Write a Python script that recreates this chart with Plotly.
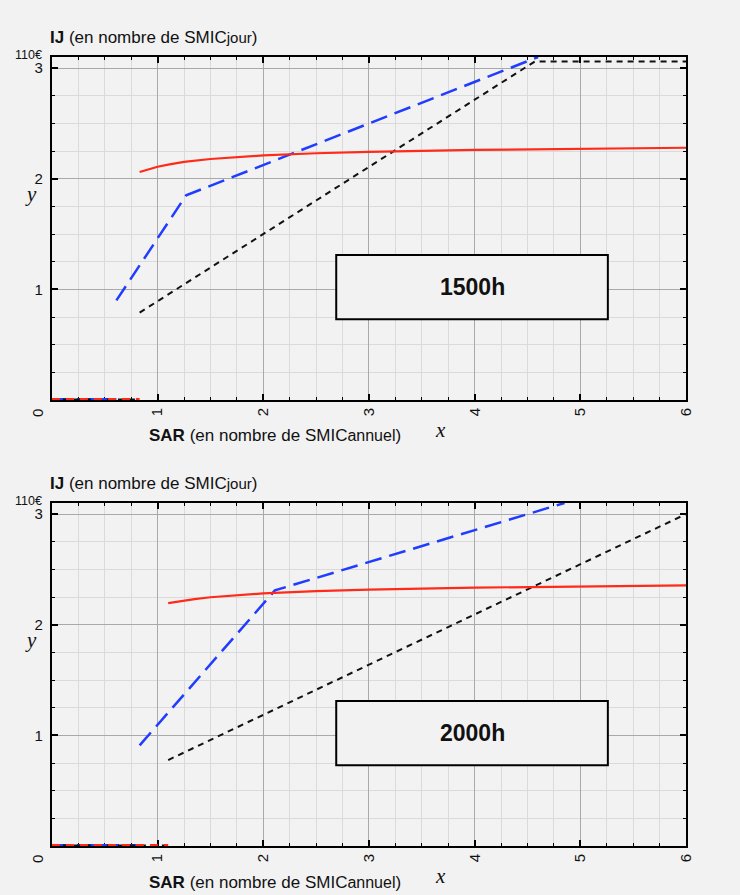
import plotly.graph_objects as go

W, H = 740, 895

# ---------- data ----------
# Top panel: 1500h
X1_RED = [0.83, 0.9, 1.0, 1.1, 1.25, 1.5, 1.75, 2.0, 2.5, 3.0, 4.0, 5.0, 6.0]
Y1_RED = [2.06, 2.082, 2.108, 2.128, 2.152, 2.178, 2.196, 2.21, 2.23, 2.243, 2.26, 2.272, 2.28]
X1_BLUE = [0.61, 1.27, 4.6]
Y1_BLUE = [0.90, 1.85, 3.1]
X1_BLACK = [0.83, 4.57, 6.0]
Y1_BLACK = [0.79, 3.06, 3.06]
X1_RED0 = [0, 0.83]
X1_BLUE0 = [0, 0.61]
X1_BLACK0 = [0, 0.83]

# Bottom panel: 2000h
X2_RED = [1.10, 1.2, 1.35, 1.5, 1.75, 2.0, 2.5, 3.0, 4.0, 5.0, 6.0]
Y2_RED = [2.195, 2.212, 2.232, 2.248, 2.268, 2.283, 2.303, 2.317, 2.335, 2.347, 2.355]
X2_BLUE = [0.83, 2.11, 4.85]
Y2_BLUE = [0.91, 2.31, 3.1]
X2_BLACK = [1.10, 6.0]
Y2_BLACK = [0.777, 3.0]
X2_RED0 = [0, 1.10]
X2_BLUE0 = [0, 0.83]
X2_BLACK0 = [0, 1.10]

ZERO = [0, 0]

X_TICKS = [0, 1, 2, 3, 4, 5, 6]
X_TICKTEXT = ["", "1", "2", "3", "4", "5", "6"]
Y_TICKS = [0, 1, 2, 3]
Y_TICKTEXT = ["", "1", "2", "3"]

PANEL_LABELS = ["1500h", "2000h"]
BOX_X = [2.69, 5.26]
BOX_Y = [0.73, 1.31]

# ---------- styles ----------
BG = "#f2f2f2"
RED = "#ff2a1a"
BLUE = "#1f3cff"
BLACK = "#111111"
FONT = "Liberation Sans, Arial, sans-serif"
SERIF = "Liberation Serif, Times New Roman, serif"
SX = 733.0  # effective horizontal scale observed in the rendered page

def px_x(p):
    return p / SX

def px_y(p):
    return 1 - p / H

fig = go.Figure()

def add_panel(xa, ya, xr, yr, xb, yb, xk, yk, xr0, xb0, xk0):
    common = dict(xaxis=xa, yaxis=ya, showlegend=False, hoverinfo="skip", mode="lines")
    fig.add_trace(go.Scatter(x=xb0, y=ZERO, line=dict(color=BLUE, width=4, dash="17px,8px"), **common))
    fig.add_trace(go.Scatter(x=xk0, y=ZERO, line=dict(color=BLACK, width=3, dash="6px,5px"), **common))
    fig.add_trace(go.Scatter(x=xr0, y=ZERO, line=dict(color=RED, width=4, dash="8px,6px"), **common))
    fig.add_trace(go.Scatter(x=xk, y=yk, line=dict(color=BLACK, width=2, dash="6px,5px"), **common))
    fig.add_trace(go.Scatter(x=xb, y=yb, line=dict(color=BLUE, width=2.5, dash="17px,8px"), **common))
    fig.add_trace(go.Scatter(x=xr, y=yr, line=dict(color=RED, width=2.2), **common))

add_panel("x", "y", X1_RED, Y1_RED, X1_BLUE, Y1_BLUE, X1_BLACK, Y1_BLACK, X1_RED0, X1_BLUE0, X1_BLACK0)
add_panel("x2", "y2", X2_RED, Y2_RED, X2_BLUE, Y2_BLUE, X2_BLACK, Y2_BLACK, X2_RED0, X2_BLUE0, X2_BLACK0)

def minor_style():
    return dict(tickmode="linear", tick0=0, dtick=0.25, ticks="inside", ticklen=3,
                tickcolor="black", tickwidth=1, showgrid=True, gridcolor="#dadada", gridwidth=1)

def xaxis_style(anchor):
    return dict(
        domain=[px_x(52), px_x(687)], range=[0, 6], anchor=anchor,
        tickmode="array", tickvals=X_TICKS, ticktext=X_TICKTEXT, tickangle=-90,
        ticks="inside", ticklen=6, tickwidth=1.5, tickcolor="black",
        showline=True, linecolor="black", linewidth=2, mirror="ticks",
        showgrid=True, gridcolor="#a9a9a9", gridwidth=1, zeroline=False,
        tickfont=dict(family=FONT, size=15, color="#111"),
        minor=minor_style(),
        layer="below traces", fixedrange=True,
    )

def yaxis_style(anchor, top_px, bottom_px):
    return dict(
        domain=[px_y(bottom_px), px_y(top_px)], range=[0, 3.1], anchor=anchor,
        tickmode="array", tickvals=Y_TICKS, ticktext=Y_TICKTEXT,
        ticks="inside", ticklen=6, tickwidth=1.5, tickcolor="black",
        showline=True, linecolor="black", linewidth=2, mirror="ticks",
        showgrid=True, gridcolor="#a9a9a9", gridwidth=1, zeroline=False,
        tickfont=dict(family=FONT, size=15, color="#111"),
        ticklabelstandoff=4,
        minor=minor_style(),
        layer="below traces", fixedrange=True,
    )

fig.update_layout(
    width=W, height=H, autosize=False,
    margin=dict(l=0, r=0, t=0, b=0),
    paper_bgcolor=BG, plot_bgcolor=BG,
    xaxis=xaxis_style("y"),
    yaxis=yaxis_style("x", 57, 400),
    xaxis2=xaxis_style("y2"),
    yaxis2=yaxis_style("x2", 503, 846),
    font=dict(family=FONT, color="#111"),
)

annotations = []
shapes = []
for i, (top, bot, xr, yr) in enumerate([(57, 400, "x", "y"), (503, 846, "x2", "y2")]):
    annotations.append(dict(xref="paper", yref="paper", x=px_x(48), y=px_y(top - 20),
                            xanchor="left", yanchor="middle", showarrow=False,
                            text="<b>IJ</b> (en nombre de SMIC<span style='font-size:15px'>jour</span>)",
                            font=dict(family=FONT, size=17, color="#111")))
    annotations.append(dict(xref="paper", yref="paper", x=px_x(44), y=px_y(top - 2),
                            xanchor="right", yanchor="middle", showarrow=False,
                            text="110€", font=dict(family=FONT, size=12.5, color="#111")))
    annotations.append(dict(xref="paper", yref="paper", x=px_x(147), y=px_y(bot + 36),
                            xanchor="left", yanchor="middle", showarrow=False,
                            text="<b>SAR</b> (en nombre de SMIC<span style='font-size:16px'>annuel</span>)",
                            font=dict(family=FONT, size=17, color="#111")))
    annotations.append(dict(xref="paper", yref="paper", x=px_x(441), y=px_y(bot + 30),
                            xanchor="center", yanchor="middle", showarrow=False,
                            text="<i>x</i>", font=dict(family=SERIF, size=21, color="#111")))
    annotations.append(dict(xref="paper", yref="paper", x=px_x(31), y=px_y(top + 137),
                            xanchor="center", yanchor="middle", showarrow=False,
                            text="<i>y</i>", font=dict(family=SERIF, size=21, color="#111")))
    annotations.append(dict(xref="paper", yref="paper", x=px_x(37), y=px_y(bot + 13),
                            xanchor="center", yanchor="middle", showarrow=False, textangle=-90,
                            text="0", font=dict(family=FONT, size=15, color="#111")))
    shapes.append(dict(type="rect", xref=xr, yref=yr, x0=BOX_X[0], x1=BOX_X[1], y0=BOX_Y[0], y1=BOX_Y[1],
                       line=dict(color="black", width=2), fillcolor=BG, layer="above"))
    annotations.append(dict(xref=xr, yref=yr, x=(BOX_X[0] + BOX_X[1]) / 2, y=(BOX_Y[0] + BOX_Y[1]) / 2,
                            xanchor="center", yanchor="middle", showarrow=False,
                            text="<b>%s</b>" % PANEL_LABELS[i], font=dict(family=FONT, size=23, color="#111")))

fig.update_layout(annotations=annotations, shapes=shapes)

POST = ("document.body.style.margin='0';document.body.style.padding='0';"
        "document.body.style.overflow='hidden';"
        "document.body.style.background='%s';"
        "document.documentElement.style.background='%s';"
        "document.documentElement.style.overflow='hidden';"
        "var gd=document.getElementById('{plot_id}');"
        "Plotly.relayout(gd,{width:%d,height:%d,autosize:false});") % (BG, BG, W, H)

fig.write_html("out.html", post_script=POST,
               config={"displayModeBar": False, "responsive": False})
